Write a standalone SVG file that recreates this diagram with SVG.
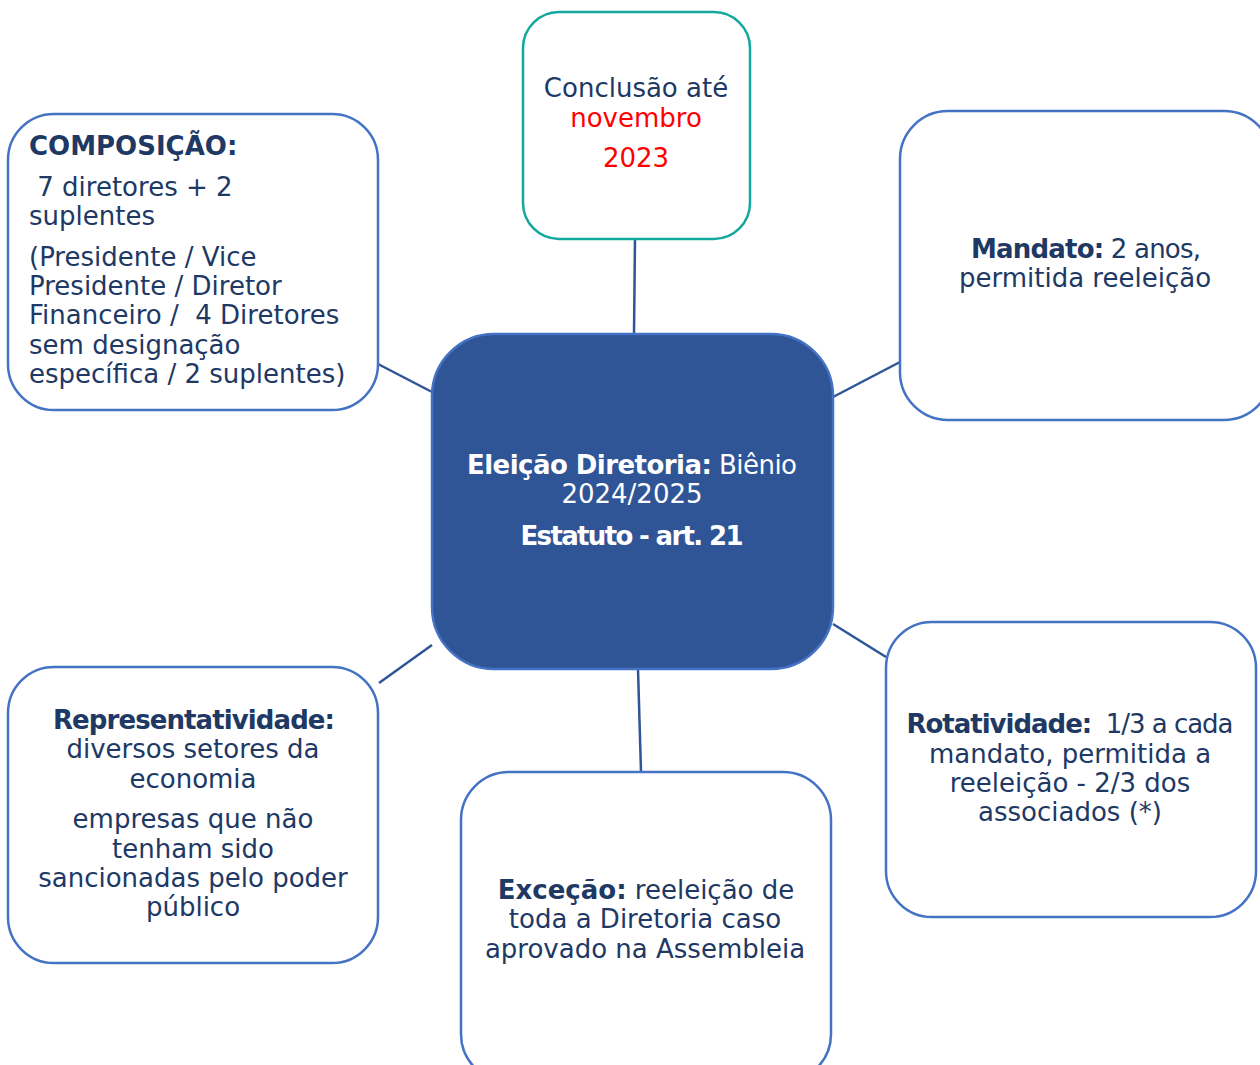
<svg xmlns="http://www.w3.org/2000/svg" width="1260" height="1065" viewBox="0 0 1260 1065">
<style>
.box{fill:#ffffff;stroke:#4472C4;stroke-width:2.5}
.teal{fill:#ffffff;stroke:#13A89E;stroke-width:2.5}
.center{fill:#2F5597;stroke:#4472C4;stroke-width:2.5}
.conn line{stroke:#2F5597;stroke-width:2.5}
text{font-family:"DejaVu Sans",Verdana,sans-serif;font-size:26px;fill:#203864}
.c{text-anchor:middle}
.b{font-weight:bold}
.red{fill:#FF0000}
.w{fill:#ffffff}
</style>
<rect width="1260" height="1065" fill="#ffffff"/>
<g class="conn" id="connectors">
<line x1="635" y1="239" x2="634" y2="334"/>
<line x1="378" y1="364" x2="432" y2="392"/>
<line x1="833" y1="397" x2="900" y2="362"/>
<line x1="833" y1="624" x2="886" y2="657"/>
<line x1="379" y1="683" x2="432" y2="645"/>
<line x1="638" y1="669" x2="641" y2="772"/>
</g>
<g id="conclusao">
<rect class="teal" x="523" y="12" width="227" height="227" rx="36"/>
<text class="c" x="636" y="97">Conclusão até</text>
<text class="c red" x="636" y="127">novembro</text>
<text class="c red" x="636" y="167">2023</text>
</g>
<g id="composicao">
<rect class="box" x="8" y="114" width="370" height="296" rx="46"/>
<text class="b" x="29" y="155">COMPOSIÇÃO:</text>
<text x="29" y="196" xml:space="preserve"> 7 diretores + 2</text>
<text x="29" y="225">suplentes</text>
<text x="29" y="266">(Presidente / Vice</text>
<text x="29" y="295">Presidente / Diretor</text>
<text x="29" y="324" xml:space="preserve">Financeiro /  4 Diretores</text>
<text x="29" y="354">sem designação</text>
<text x="29" y="383">específica / 2 suplentes)</text>
</g>
<g id="mandato">
<rect class="box" x="900" y="111" width="372" height="309" rx="48"/>
<text class="c" x="1086" y="258" textLength="230"><tspan class="b">Mandato:</tspan> 2 anos,</text>
<text class="c" x="1085" y="287">permitida reeleição</text>
</g>
<g id="eleicao">
<rect class="center" x="432" y="334" width="401" height="335" rx="62"/>
<text class="c w" x="632" y="474" textLength="330"><tspan class="b w">Eleição Diretoria:</tspan> Biênio</text>
<text class="c w" x="632" y="503">2024/2025</text>
<text class="c w b" x="632" y="545" textLength="223">Estatuto - art. 21</text>
</g>
<g id="representatividade">
<rect class="box" x="8" y="667" width="370" height="296" rx="46"/>
<text class="c b" x="194" y="729" textLength="282">Representatividade:</text>
<text class="c" x="193" y="758">diversos setores da</text>
<text class="c" x="193" y="788">economia</text>
<text class="c" x="193" y="828">empresas que não</text>
<text class="c" x="193" y="858">tenham sido</text>
<text class="c" x="193" y="887">sancionadas pelo poder</text>
<text class="c" x="193" y="916">público</text>
</g>
<g id="rotatividade">
<rect class="box" x="886" y="622" width="370" height="295" rx="46"/>
<text class="c" x="1070" y="733" xml:space="preserve" textLength="327"><tspan class="b">Rotatividade:</tspan>  1/3 a cada</text>
<text class="c" x="1070" y="763">mandato, permitida a</text>
<text class="c" x="1070" y="792">reeleição - 2/3 dos</text>
<text class="c" x="1070" y="821">associados (*)</text>
</g>
<g id="excecao">
<rect class="box" x="461" y="772" width="370" height="310" rx="48"/>
<text class="c" x="646" y="899"><tspan class="b">Exceção:</tspan> reeleição de</text>
<text class="c" x="645" y="928">toda a Diretoria caso</text>
<text class="c" x="645" y="958">aprovado na Assembleia</text>
</g>
</svg>
